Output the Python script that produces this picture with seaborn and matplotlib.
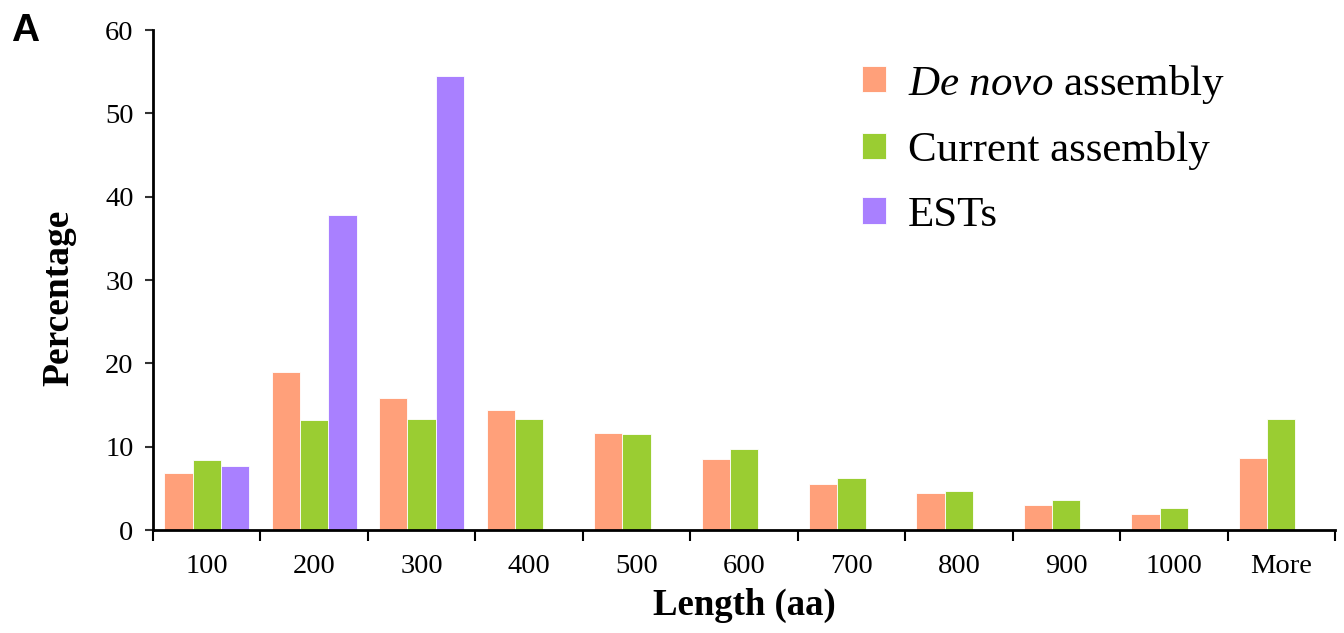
import numpy as np
import pandas as pd
import matplotlib
matplotlib.use("Agg")
import matplotlib.pyplot as plt
import seaborn as sns

# Protein length bins (aa)
lengths = ["100", "200", "300", "400", "500", "600", "700", "800", "900", "1000", "More"]

# Percentage of sequences in each bin
de_novo = [6.8, 19.0, 15.8, 14.4, 11.6, 8.5, 5.5, 4.4, 3.0, 1.9, 8.7]
current = [8.4, 13.2, 13.3, 13.3, 11.5, 9.7, 6.2, 4.7, 3.6, 2.6, 13.3]
ests = [7.7, 37.8, 54.5, 0.1, 0.0, 0.0, 0.0, 0.0, 0.0, 0.0, 0.0]

series_names = [r"$\mathit{De\ novo}$ assembly", "Current assembly", "ESTs"]
series_colors = ["#FFA07A", "#9ACD32", "#A980FF"]

df = pd.DataFrame({
    "Length": lengths * 3,
    "Percentage": de_novo + current + ests,
    "Source": [series_names[0]] * len(lengths)
              + [series_names[1]] * len(lengths)
              + [series_names[2]] * len(lengths),
})

sns.set_theme(style="white")
plt.rcParams["font.family"] = ["Liberation Serif", "DejaVu Serif"]
plt.rcParams["mathtext.fontset"] = "custom"
plt.rcParams["mathtext.it"] = "Liberation Serif:italic"
plt.rcParams["mathtext.rm"] = "Liberation Serif"
plt.rcParams["text.color"] = "black"
plt.rcParams["axes.labelcolor"] = "black"
plt.rcParams["xtick.color"] = "black"
plt.rcParams["ytick.color"] = "black"

fig = plt.figure(figsize=(13.44, 6.33), dpi=100)
ax = fig.add_axes([0.1138, 0.1627, 0.8795, 0.7899])

sns.barplot(data=df, x="Length", y="Percentage", hue="Source",
            order=lengths, hue_order=series_names,
            palette=series_colors, width=0.79, saturation=1,
            edgecolor="white", linewidth=0.6, ax=ax)

ax.set_xlim(-0.5, len(lengths) - 0.5)
ax.set_ylim(0, 60)
ax.set_yticks(np.arange(0, 61, 10))

# Category boundaries as major ticks, labels at category centres
ax.set_xticks(np.arange(-0.5, len(lengths), 1.0))
ax.set_xticklabels([])
ax.set_xticks(np.arange(len(lengths)), minor=True)
ax.set_xticklabels(lengths, minor=True, fontsize=20.5)
ax.tick_params(axis="x", which="major", direction="out", length=8, width=1.5,
               color="black", bottom=True)
ax.tick_params(axis="x", which="minor", length=0, pad=17)
ax.tick_params(axis="y", direction="out", length=6, width=1.5, color="#333333",
               left=True, labelsize=20.5, pad=8)

for side in ("top", "right"):
    ax.spines[side].set_visible(False)
for side in ("left", "bottom"):
    ax.spines[side].set_linewidth(2)
    ax.spines[side].set_color("black")

ax.set_xlabel("Length (aa)", fontsize=26.5, fontweight="bold", labelpad=7)
ax.set_ylabel("Percentage", fontsize=27, fontweight="bold")
ax.yaxis.set_label_coords(-0.065, 0.465)

leg = ax.legend(loc="upper left", bbox_to_anchor=(0.6, 0.935), frameon=False,
                fontsize=31, handlelength=0.56, handleheight=0.56,
                handletextpad=0.5, labelspacing=0.6, borderaxespad=0,
                borderpad=0)

fig.text(0.008, 0.935, "A", fontsize=28, fontweight="bold",
         family=["Liberation Sans", "DejaVu Sans"])

fig.savefig("out.png", dpi=100)
